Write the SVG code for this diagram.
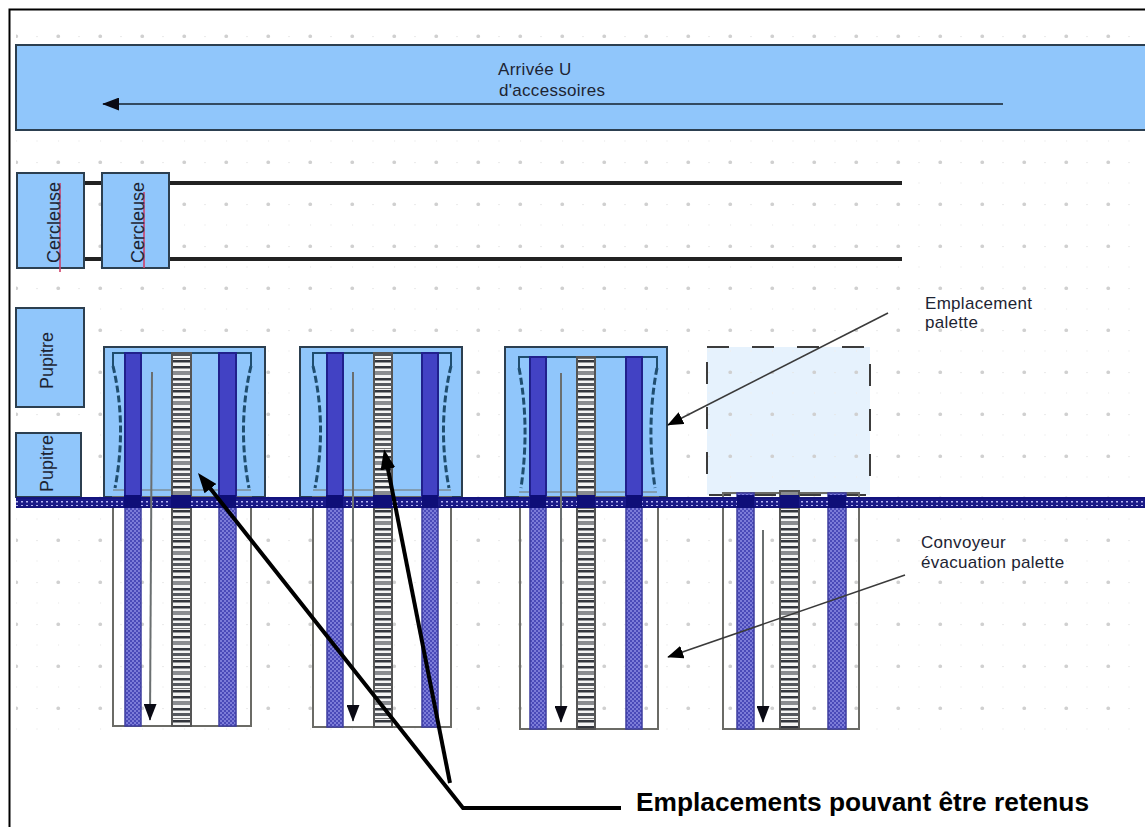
<svg xmlns="http://www.w3.org/2000/svg" width="1145" height="827" viewBox="0 0 1145 827">
<style>
text{font-family:"Liberation Sans",Arial,sans-serif;fill:#1d2433}
.s{font-size:17px;letter-spacing:.3px}
.v{font-size:18px}
.b{fill:#90c6fb;stroke:#2c3f50;stroke-width:2}
.in{fill:none;stroke:#1f4d6e;stroke-width:2}
.fr{fill:none;stroke:#6b6b66;stroke-width:2}
.rt{fill:#4242c4;stroke:#20208c;stroke-width:2}
.rb{fill:url(#blue);stroke:#3e3e9e;stroke-width:1.5}
.st{fill:url(#stripe);stroke:#555;stroke-width:2}
.a{fill:none;stroke:#6a6f70;stroke-width:2}
.cl{stroke:#3a3a3a;stroke-width:1.6;fill:none}
.bk{stroke:#000;stroke-width:4;fill:none}
.d{fill:none;stroke:#1f4d6e;stroke-width:3;stroke-dasharray:7 3}
.red{stroke:#d0406a;stroke-width:1.6}
.hl{stroke:#222;stroke-width:4}
.x{fill:#0e0e78}
.g{stroke:#7d8f9a;stroke-width:1.5}
</style>
<defs>
<pattern id="dots" width="42" height="42" patternUnits="userSpaceOnUse" x="16" y="36">
<circle cx="0.5" cy="0.5" r="1.6" fill="#d0d0d0"/><circle cx="42" cy="0.5" r="1.6" fill="#d0d0d0"/><circle cx="0.5" cy="42" r="1.6" fill="#d0d0d0"/><circle cx="42" cy="42" r="1.6" fill="#d0d0d0"/>
<circle cx="21" cy="0.5" r="0.8" fill="#e6e6e6"/><circle cx="21" cy="21" r="0.8" fill="#eee"/><circle cx="0.5" cy="21" r="0.8" fill="#eee"/>
</pattern>
<pattern id="blue" width="4" height="4" patternUnits="userSpaceOnUse"><rect width="4" height="4" fill="#4a4ab8"/><rect width="2" height="2" fill="#7c7cd8"/><rect x="2" y="2" width="2" height="2" fill="#7c7cd8"/></pattern>
<pattern id="stripe" width="20" height="30" patternUnits="userSpaceOnUse"><rect width="20" height="30" fill="#f4f4f4"/><rect width="20" height="2.5" fill="#33363d"/><rect y="6" width="20" height="2.5" fill="#33363d"/><rect y="11" width="20" height="4" fill="#8a8c90"/><rect y="18" width="20" height="2.5" fill="#33363d"/><rect y="23" width="20" height="3" fill="#55585e"/><rect y="28" width="20" height="1" fill="#777"/></pattern>
<pattern id="conv" width="5" height="4" patternUnits="userSpaceOnUse"><rect width="5" height="4" fill="#1a1a88"/><rect x="1" y="1" width="2" height="1.5" fill="#b4b4f0"/></pattern>
<marker id="ahl" viewBox="0 0 10 10" refX="9.5" refY="5" markerWidth="17" markerHeight="13" orient="auto" markerUnits="userSpaceOnUse" preserveAspectRatio="none"><path d="M0 0L10 5L0 10Z" fill="#0a0a14"/></marker>
<marker id="ahb" viewBox="0 0 10 10" refX="9.5" refY="5" markerWidth="16" markerHeight="13" orient="auto" markerUnits="userSpaceOnUse" preserveAspectRatio="none"><path d="M0 0L10 5L0 10Z" fill="#000"/></marker>
<marker id="ahk" viewBox="0 0 10 10" refX="5" refY="5" markerWidth="20" markerHeight="15" orient="auto" markerUnits="userSpaceOnUse" preserveAspectRatio="none"><path d="M0 0L10 5L0 10Z" fill="#000"/></marker>
</defs>
<rect width="1145" height="827" fill="#fff"/>
<rect x="16" y="17" width="1129" height="713" fill="url(#dots)"/>
<path d="M9.5 827V9.5H1145" fill="none" stroke="#000" stroke-width="2"/>

<g id="arrivee">
<rect class="b" x="16" y="45" width="1131" height="85"/>
<text class="s" x="498" y="75">Arrivée U</text>
<text class="s" x="499" y="96">d'accessoires</text>
</g>

<g id="lignes">
<line class="hl" x1="17" y1="183" x2="902" y2="183"/>
<line class="hl" x1="17" y1="259" x2="902" y2="259"/>
</g>

<g id="cercleuse1">
<rect class="b" x="17" y="173" width="67" height="95"/>
<line class="red" x1="60" y1="183" x2="60" y2="272"/>
<text class="v" transform="translate(60,263) rotate(-90)">Cercleuse</text>
</g>
<g id="cercleuse2">
<rect class="b" x="102" y="173" width="67" height="95"/>
<line class="red" x1="144" y1="192" x2="144" y2="268"/>
<text class="v" transform="translate(144,263) rotate(-90)">Cercleuse</text>
</g>
<g id="pupitre1">
<rect class="b" x="16" y="308" width="68" height="99"/>
<text class="v" transform="translate(53,389) rotate(-90)">Pupitre</text>
</g>
<g id="pupitre2">
<rect class="b" x="16" y="433" width="65" height="64"/>
<text class="v" transform="translate(53,492) rotate(-90)">Pupitre</text>
</g>

<g id="palette1">
<rect class="b" x="104" y="347" width="161" height="150"/>
<path class="in" d="M113 366V353H251V366"/>
<line class="g" x1="113" y1="490" x2="251" y2="490"/>
<path class="d" d="M113 366Q127 425 115 488M251 366Q237 425 249 488"/>
</g>
<g id="palette2">
<rect class="b" x="300" y="347" width="162" height="150"/>
<path class="in" d="M313 366V353H451V366"/>
<line class="g" x1="313" y1="490" x2="451" y2="490"/>
<path class="d" d="M313 366Q327 425 315 488M451 366Q437 425 449 488"/>
</g>
<g id="palette3">
<rect class="b" x="505" y="347" width="162" height="150"/>
<path class="in" d="M519 368V357H657V368"/>
<line class="g" x1="519" y1="492" x2="657" y2="492"/>
<path class="d" d="M519 368Q530 425 521 488M657 368Q646 425 655 488"/>
</g>
<g id="palette4">
<rect x="707" y="347" width="163" height="148" fill="#e6f2fd"/>
<rect x="707" y="347" width="163" height="148" fill="url(#dots)"/>
<rect x="707" y="347" width="163" height="148" fill="none" stroke="#3c3c3c" stroke-width="2" stroke-dasharray="22 23"/>
</g>

<g id="convoyeur1">
<rect class="fr" x="113" y="497" width="138" height="229"/>
<rect class="rt" x="125" y="353" width="16" height="144"/><rect class="rb" x="125" y="497" width="16" height="229"/>
<rect class="st" x="172" y="353" width="19" height="373"/>
<rect class="rt" x="219" y="353" width="17" height="144"/><rect class="rb" x="219" y="497" width="17" height="229"/>
</g>
<g id="convoyeur2">
<rect class="fr" x="313" y="497" width="138" height="230"/>
<rect class="rt" x="327" y="353" width="16" height="144"/><rect class="rb" x="327" y="497" width="16" height="230"/>
<rect class="st" x="374" y="353" width="18" height="374"/>
<rect class="rt" x="422" y="353" width="16" height="144"/><rect class="rb" x="422" y="497" width="16" height="230"/>
</g>
<g id="convoyeur3">
<rect class="fr" x="520" y="497" width="138" height="232"/>
<rect class="rt" x="530" y="357" width="16" height="140"/><rect class="rb" x="530" y="497" width="16" height="232"/>
<rect class="st" x="577" y="357" width="18" height="372"/>
<rect class="rt" x="626" y="357" width="16" height="140"/><rect class="rb" x="626" y="497" width="16" height="232"/>
</g>
<g id="convoyeur4">
<rect class="fr" x="723" y="493" width="136" height="236"/>
<rect class="rb" x="737" y="493" width="17" height="236"/>
<rect class="st" x="780" y="491" width="19" height="238"/>
<rect class="rb" x="828" y="493" width="18" height="236"/>
</g>

<g id="evacuation">
<rect x="16" y="497" width="1129" height="11" fill="#14147e"/>
<rect x="16" y="499" width="1129" height="7" fill="url(#conv)"/>
<rect class="x" x="124" y="495" width="17" height="13"/><rect class="x" x="171" y="495" width="20" height="13"/><rect class="x" x="219" y="495" width="17" height="13"/>
<rect class="x" x="326" y="495" width="17" height="13"/><rect class="x" x="373" y="495" width="19" height="13"/><rect class="x" x="422" y="495" width="16" height="13"/>
<rect class="x" x="530" y="495" width="16" height="13"/><rect class="x" x="577" y="495" width="18" height="13"/><rect class="x" x="626" y="495" width="16" height="13"/>
<rect class="x" x="737" y="495" width="17" height="13"/><rect class="x" x="780" y="495" width="19" height="13"/><rect class="x" x="828" y="495" width="18" height="13"/>
</g>

<g id="connectors">
<line x1="1003" y1="104" x2="103" y2="104" stroke="#14202c" stroke-width="1.6" marker-end="url(#ahl)"/>
<line class="a" x1="152" y1="372" x2="150" y2="720" marker-end="url(#ahl)"/>
<line class="a" x1="353" y1="372" x2="353" y2="721" marker-end="url(#ahl)"/>
<line class="a" x1="561" y1="373" x2="561" y2="722" marker-end="url(#ahl)"/>
<line class="a" x1="763" y1="530" x2="763" y2="722" marker-end="url(#ahl)"/>
<line class="cl" x1="888" y1="313" x2="668" y2="425" marker-end="url(#ahb)"/>
<line class="cl" x1="905" y1="575" x2="668" y2="657" marker-end="url(#ahb)"/>
<polyline class="bk" points="621,808 463,808 204.2,480.8" marker-end="url(#ahk)"/>
<line class="bk" x1="450" y1="783" x2="386" y2="459" marker-end="url(#ahk)"/>
</g>

<g id="labels">
<text class="s" x="925" y="309">Emplacement</text>
<text class="s" x="925" y="328">palette</text>
<text class="s" x="921" y="548">Convoyeur</text>
<text class="s" x="921" y="568">évacuation palette</text>
<text x="636" y="811" font-size="26.3" font-weight="bold" style="fill:#000">Emplacements pouvant être retenus</text>
</g>
</svg>
